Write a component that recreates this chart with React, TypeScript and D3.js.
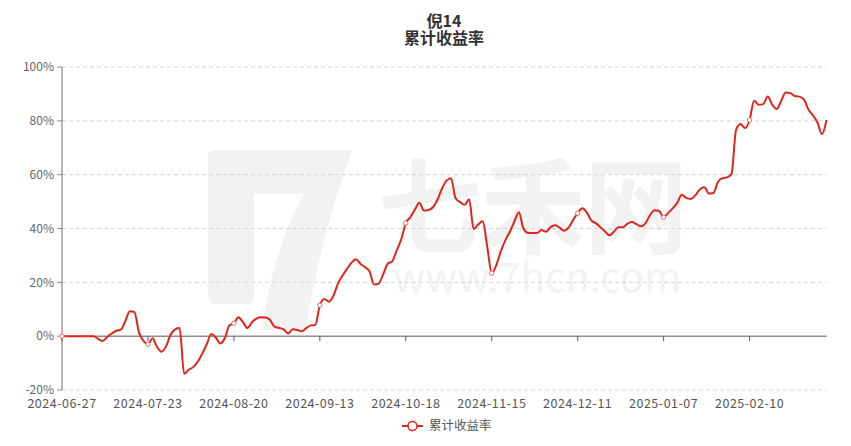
import * as d3 from 'd3';
import React from 'react';

const TITLE = '倪14';
const SUBTITLE = '累计收益率';
const SERIES_NAME = '累计收益率';

// category labels shown on the x axis (every 19th trading day)
const TICK_LABELS = [
    '2024-06-27', '2024-07-23', '2024-08-20', '2024-09-13', '2024-10-18',
    '2024-11-15', '2024-12-11', '2025-01-07', '2025-02-10',
];
const LABEL_STEP = 19;

// cumulative return, %, one value per day
const RETURNS = [
    0, 0, 0, 0, 0, 0, 0, 0, -1.0, -1.8,
    -0.3, 1.0, 2.0, 2.4, 5.6, 9.3, 9.0, 1.5, -1.7, -3.0,
    -0.8, -4.0, -5.8, -3.8, 0.5, 2.5, 3.0, -14.0, -12.5, -11.5,
    -9.5, -6.5, -3.0, 0.8, -0.5, -2.7, -0.7, 4.0, 4.8, 7.0,
    5.2, 3.0, 5.2, 6.5, 7.0, 6.9, 6.0, 3.5, 3.1, 2.5,
    1.0, 2.6, 2.3, 1.8, 3.0, 4.0, 4.2, 11.5, 13.8, 12.8,
    15.0, 19.5, 22.5, 25.0, 27.3, 28.6, 26.8, 25.6, 24.0, 19.2,
    19.5, 23.0, 26.9, 27.8, 31.9, 36.0, 42.0, 44.2, 47.0, 49.6,
    46.7, 46.9, 47.9, 50.7, 54.8, 57.8, 58.7, 51.2, 49.8, 48.8,
    50.9, 39.8, 41.5, 42.7, 33.3, 23.4, 26.4, 31.5, 35.6, 38.8,
    42.6, 46.0, 40.0, 38.4, 38.3, 38.3, 39.4, 38.8, 40.5, 41.2,
    40.3, 39.2, 40.4, 43.2, 45.7, 47.5, 46.0, 43.0, 42.0, 40.5,
    39.0, 37.5, 38.8, 40.5, 40.5, 41.8, 42.4, 41.6, 40.8, 42.0,
    45.0, 46.8, 46.5, 44.2, 45.8, 47.5, 49.5, 52.5, 51.4, 51.0,
    52.3, 54.5, 55.3, 53.0, 53.2, 57.3, 58.7, 59.0, 60.2, 76.6,
    78.8, 77.3, 80.3, 87.5, 86.0, 86.2, 89.0, 86.0, 84.4, 87.5,
    90.5, 90.3, 89.2, 89.0, 88.0, 84.2, 82.0, 79.4, 75.0, 80.3,
];

const Y_TICKS = [-20, 0, 20, 40, 60, 80, 100];

const W = 851;
const H = 446;
const M = { left: 62, right: 24.5, top: 67, bottom: 56 };
const FONT = '"Noto Sans CJK SC", "Noto Sans", sans-serif';
const RED = '#e0251c';

export default function App() {
    const x = d3.scaleLinear().domain([0, RETURNS.length - 1]).range([M.left, W - M.right]);
    const y = d3.scaleLinear().domain([-20, 100]).range([H - M.bottom, M.top]);

    const linePath = d3
        .line<number>()
        .x((_, i) => x(i))
        .y((d) => y(d))
        .curve(d3.curveMonotoneX)(RETURNS) ?? '';

    const markers = RETURNS.map((v, i) => ({ v, i })).filter((d) => d.i % LABEL_STEP === 0);

    return (
        <svg
            width={W}
            height={H}
            style={{ position: 'absolute', left: 0, top: 0, background: '#fff' }}
            fontFamily={FONT}
        >
            {/* watermark */}
            <g fill="#f2f2f2">
                <path d="M214,150 H352 C336,196 318,250 306,330 H262 C270,270 286,226 304,194 H254 V298 Q254,304 246,304 H216 Q208,304 208,296 V158 Q208,150 214,150 Z" />
                <text x={378} y={246} fontSize={104} fontWeight={700} textLength={310}>七禾网</text>
                <text x={393} y={292} fontSize={40} textLength={288}>www.7hcn.com</text>
            </g>

            {/* title */}
            <text x={444} y={27} textAnchor="middle" fontSize={16} fontWeight={700} fill="#333">{TITLE}</text>
            <text x={444} y={44} textAnchor="middle" fontSize={16} fontWeight={700} fill="#333">{SUBTITLE}</text>

            {/* grid + y axis labels */}
            {Y_TICKS.map((t) => (
                <g key={t}>
                    {t !== 0 && (
                        <line
                            x1={M.left} x2={W - M.right} y1={y(t)} y2={y(t)}
                            stroke="#d4d4d4" strokeDasharray="4,3"
                        />
                    )}
                    <line x1={M.left - 5} x2={M.left} y1={y(t)} y2={y(t)} stroke="#888" />
                    <text x={M.left - 8} y={y(t)} dy="0.35em" textAnchor="end" fontSize={12} fill="#666">
                        {t}%
                    </text>
                </g>
            ))}
            <line x1={M.left} x2={M.left} y1={M.top} y2={H - M.bottom} stroke="#888" strokeWidth={1.2} />

            {/* x axis on zero */}
            <line x1={M.left} x2={W - M.right} y1={y(0)} y2={y(0)} stroke="#555" />
            {TICK_LABELS.map((lab, k) => {
                const px = x(k * LABEL_STEP);
                return (
                    <g key={lab}>
                        <line x1={px} x2={px} y1={y(0)} y2={y(0) + 5} stroke="#555" />
                        <text x={px} y={408} textAnchor="middle" fontSize={12.5} letterSpacing={0.5} fill="#555">
                            {lab}
                        </text>
                    </g>
                );
            })}

            {/* series */}
            <path d={linePath} fill="none" stroke={RED} strokeWidth={2} strokeLinejoin="round" />
            {markers.map((d) => (
                <circle key={d.i} cx={x(d.i)} cy={y(d.v)} r={2.2} fill="#fff" stroke="#ee6b65" strokeWidth={1} />
            ))}

            {/* legend */}
            <g>
                <line x1={402} x2={423} y1={426} y2={426} stroke={RED} strokeWidth={2} />
                <circle cx={412.5} cy={426} r={4.5} fill="#fff" stroke={RED} strokeWidth={1.5} />
                <text x={429} y={426} dy="0.35em" fontSize={12.5} fill="#555">{SERIES_NAME}</text>
            </g>
        </svg>
    );
}
